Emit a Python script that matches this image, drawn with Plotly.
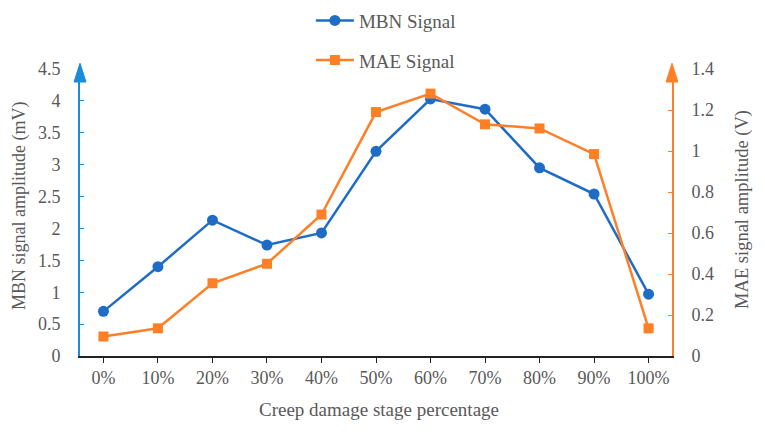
import plotly.graph_objects as go

categories = ["0%", "10%", "20%", "30%", "40%", "50%", "60%", "70%", "80%", "90%", "100%"]
mbn_values = [0.70, 1.40, 2.13, 1.74, 1.93, 3.21, 4.03, 3.87, 2.95, 2.54, 0.97]
mae_values = [0.095, 0.135, 0.355, 0.450, 0.690, 1.190, 1.280, 1.130, 1.110, 0.985, 0.135]
left_ticks = [0, 0.5, 1, 1.5, 2, 2.5, 3, 3.5, 4, 4.5]
right_ticks = [0, 0.2, 0.4, 0.6, 0.8, 1, 1.2, 1.4]

BLUE = "#1F6CC6"
ORANGE = "#FF7F27"
LAXIS = "#1A8BD6"
TXT = "#595959"
FONT = "Liberation Serif"

fig = go.Figure()
fig.add_trace(go.Scatter(
    x=categories, y=mbn_values, name="MBN Signal", mode="lines+markers",
    line=dict(color=BLUE, width=2.5), marker=dict(symbol="circle", size=11, color=BLUE),
    legendgroup="a", yaxis="y"))
fig.add_trace(go.Scatter(
    x=categories, y=mae_values, name="MAE Signal", mode="lines+markers",
    line=dict(color=ORANGE, width=2.5), marker=dict(symbol="square", size=10, color=ORANGE),
    legendgroup="b", yaxis="y2"))

fig.update_layout(
    width=765, height=436,
    margin=dict(l=80, r=93, t=69, b=80, autoexpand=False),
    paper_bgcolor="white", plot_bgcolor="white",
    font=dict(family=FONT, size=18, color=TXT),
    showlegend=True,
    legend=dict(x=0.39, y=1.235, xref="paper", yref="paper", xanchor="left", yanchor="top",
                orientation="v", tracegroupgap=12, itemwidth=38,
                font=dict(size=19, color=TXT), bgcolor="rgba(0,0,0,0)"),
    xaxis=dict(
        type="category", range=[-0.43, 10.43], showgrid=False, zeroline=False,
        showline=True, linecolor="#222222", linewidth=1.5,
        ticks="outside", ticklen=5, tickcolor="#222222", tickangle=0,
        tickfont=dict(size=18, color=TXT),
    ),
    yaxis=dict(
        range=[0, 4.5], tickvals=left_ticks, showgrid=False, zeroline=False,
        showline=True, linecolor=LAXIS, linewidth=2,
        ticks="inside", ticklen=4, tickcolor=LAXIS,
        tickfont=dict(size=18, color=TXT), ticklabelstandoff=14,
    ),
    yaxis2=dict(
        range=[0, 1.4], tickvals=right_ticks, overlaying="y", side="right",
        showgrid=False, zeroline=False,
        showline=True, linecolor=ORANGE, linewidth=2,
        ticks="inside", ticklen=4, tickcolor=ORANGE,
        tickfont=dict(size=18, color=TXT), ticklabelstandoff=14,
    ),
)

# axis arrows
dx, dy = 6 / 592, 13 / 287
fig.add_shape(type="path", xref="paper", yref="paper",
              path=f"M {-dx} {1-dy} L {dx} {1-dy} L 0 1.02 Z",
              fillcolor=LAXIS, line=dict(color=LAXIS, width=1))
fig.add_shape(type="path", xref="paper", yref="paper",
              path=f"M {1-dx} {1-dy} L {1+dx} {1-dy} L 1 1.02 Z",
              fillcolor=ORANGE, line=dict(color=ORANGE, width=1))

fig.add_annotation(text="MBN signal amplitude (mV)", xref="paper", yref="paper",
                   x=-0.101, y=0.523, textangle=-90, showarrow=False,
                   font=dict(size=18, color=TXT), xanchor="center", yanchor="middle")
fig.add_annotation(text="MAE signal amplitude (V)", xref="paper", yref="paper",
                   x=1.118, y=0.512, textangle=-90, showarrow=False,
                   font=dict(size=18.5, color=TXT), xanchor="center", yanchor="middle")
fig.add_annotation(text="Creep damage stage percentage", xref="paper", yref="paper",
                   x=0.505, y=-0.188, showarrow=False,
                   font=dict(size=19, color=TXT), xanchor="center", yanchor="middle")

fig.write_html("out.html")
